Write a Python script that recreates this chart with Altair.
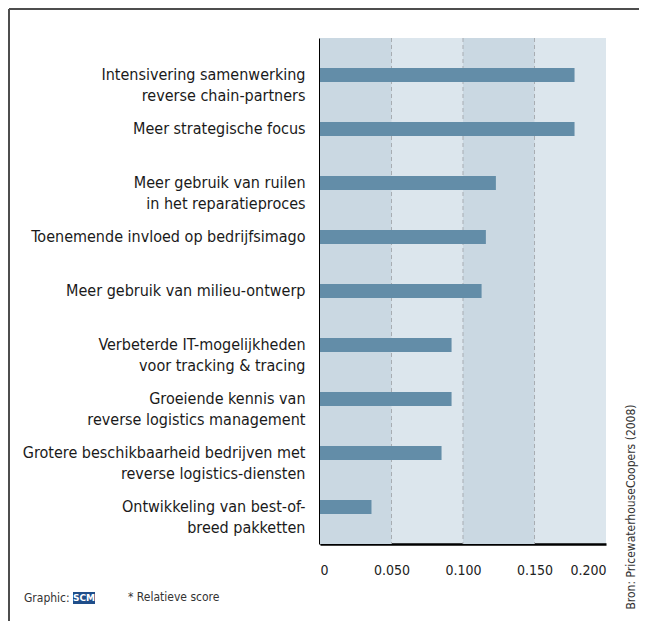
import altair as alt
import pandas as pd

categories = [
    "Intensivering samenwerking|reverse chain-partners",
    "Meer strategische focus",
    "Meer gebruik van ruilen|in het reparatieproces",
    "Toenemende invloed op bedrijfsimago",
    "Meer gebruik van milieu-ontwerp",
    "Verbeterde IT-mogelijkheden|voor tracking & tracing",
    "Groeiende kennis van|reverse logistics management",
    "Grotere beschikbaarheid bedrijven met|reverse logistics-diensten",
    "Ontwikkeling van best-of-|breed pakketten",
]
scores = [0.178, 0.178, 0.123, 0.116, 0.113, 0.092, 0.092, 0.085, 0.036]

band_starts = [0.0, 0.10]
band_ends = [0.05, 0.15]
grid_values = [0.05, 0.10, 0.15]
x_ticks = [0, 0.05, 0.10, 0.15, 0.20]

FONT = "'Liberation Sans Narrow', 'DejaVu Sans Condensed', 'DejaVu Sans', sans-serif"

df = pd.DataFrame({"cat": categories, "score": scores})
bands = pd.DataFrame({"x0": band_starts, "x1": band_ends})
grid = pd.DataFrame({"g": grid_values})

xscale = alt.Scale(domain=[0, 0.2], nice=False)
yscale = alt.Scale(paddingInner=0, paddingOuter=0.185)

band_layer = alt.Chart(bands).mark_rect(color="#cad8e2").encode(
    x=alt.X("x0:Q", scale=xscale),
    x2="x1:Q",
    y=alt.value(0),
    y2=alt.value(506),
)

grid_layer = alt.Chart(grid).mark_rule(
    color="#a8adb2", strokeDash=[4, 3], strokeWidth=1
).encode(
    x=alt.X("g:Q", scale=xscale),
    y=alt.value(0),
    y2=alt.value(506),
)

bars = alt.Chart(df).mark_bar(color="#638da8", size=14).encode(
    x=alt.X(
        "score:Q",
        scale=xscale,
        axis=alt.Axis(
            values=x_ticks,
            labelExpr="datum.value == 0 ? '0' : format(datum.value, '.3f')",
            title=None,
            grid=False,
            ticks=False,
            domainColor="#000000",
            domainWidth=2.5,
            labelFont=FONT,
            labelFontSize=14,
            labelColor="#222222",
            labelPadding=19,
        ),
    ),
    y=alt.Y(
        "cat:N",
        sort=None,
        scale=yscale,
        axis=alt.Axis(
            title=None,
            ticks=False,
            domainColor="#000000",
            domainWidth=3,
            labelExpr="split(datum.label, '|')",
            labelFont=FONT,
            labelFontSize=16,
            labelColor="#1a1a1a",
            labelLimit=400,
            labelPadding=15,
            labelLineHeight=21,
        ),
    ),
)

# Frame (top and left border of the white panel)
frame_top = alt.Chart(pd.DataFrame({"a": [0]})).mark_rule(
    color="#4d4d4d", strokeWidth=2
).encode(x=alt.value(-311), x2=alt.value(330), y=alt.value(-29))
frame_left = alt.Chart(pd.DataFrame({"a": [0]})).mark_rule(
    color="#4d4d4d", strokeWidth=2
).encode(x=alt.value(-311), y=alt.value(-29), y2=alt.value(600))

graphic_txt = alt.Chart(pd.DataFrame({"t": ["Graphic:"]})).mark_text(
    align="left", baseline="middle", font=FONT, fontSize=12, color="#333333"
).encode(text="t:N", x=alt.value(-296), y=alt.value(560))

logo_box = alt.Chart(pd.DataFrame({"a": [0]})).mark_rect(color="#1f4e8a").encode(
    x=alt.value(-247), x2=alt.value(-225), y=alt.value(554), y2=alt.value(566)
)
logo_txt = alt.Chart(pd.DataFrame({"t": ["SCM"]})).mark_text(
    align="center", baseline="middle", font="DejaVu Sans", fontSize=9,
    fontWeight="bold", color="#ffffff"
).encode(text="t:N", x=alt.value(-236), y=alt.value(560))

note_txt = alt.Chart(pd.DataFrame({"t": ["* Relatieve score"]})).mark_text(
    align="left", baseline="middle", font=FONT, fontSize=12, color="#333333"
).encode(text="t:N", x=alt.value(-192), y=alt.value(559))

source_txt = alt.Chart(pd.DataFrame({"t": ["Bron: PricewaterhouseCoopers (2008)"]})).mark_text(
    align="center", baseline="middle", font=FONT, fontSize=12, color="#333333",
    angle=270
).encode(text="t:N", x=alt.value(311), y=alt.value(469))

chart = alt.layer(
    band_layer, grid_layer, bars, frame_top, frame_left,
    graphic_txt, logo_box, logo_txt, note_txt, source_txt
).properties(
    width=286,
    height=506,
    padding={"left": 312, "top": 30, "right": 33, "bottom": 77},
    autosize=alt.AutoSizeParams(type="none"),
    background="#ffffff",
).configure_view(
    fill="#dce6ed", strokeWidth=0
)

chart.save("out.html", embed_options={"renderer": "svg", "actions": False})
